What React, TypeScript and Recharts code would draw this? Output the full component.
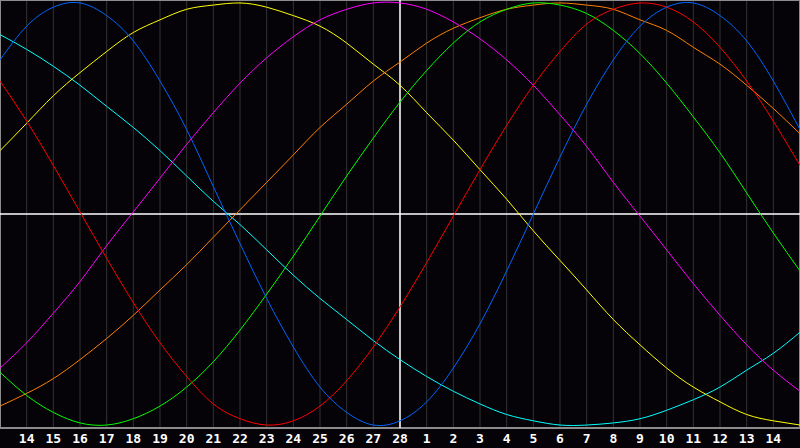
import { LineChart, Line, XAxis, YAxis, CartesianGrid, ReferenceLine, ReferenceArea } from "recharts";

// day labels under the grid lines (positions 1..29)
const dayLabels = [
  "14", "15", "16", "17", "18", "19", "20", "21", "22", "23", "24", "25", "26", "27", "28",
  "1", "2", "3", "4", "5", "6", "7", "8", "9", "10", "11", "12", "13", "14",
];

// values in % at positions 0..30 (one per day column)
const physical = [73, 89, 98, 100, 94, 82, 63, 40, 13, -14, -40, -63, -82, -94, -100, -98, -89, -73, -52, -27, 0, 27, 52, 73, 89, 98, 100, 94, 82, 63, 40];
const emotional = [63, 44, 23, 1, -21, -42, -61, -77, -90, -97, -100, -98, -91, -79, -63, -44, -23, -1, 21, 42, 61, 77, 90, 97, 100, 98, 91, 79, 63, 44, 23];
const intellectual = [-75, -86, -94, -99, -100, -97, -91, -82, -70, -55, -38, -20, -1, 18, 36, 53, 68, 81, 91, 97, 100, 99, 95, 87, 76, 62, 46, 29, 10, -9, -27];
const intuitive = [-73, -61, -47, -32, -15, 1, 17, 33, 48, 62, 74, 84, 92, 97, 100, 100, 97, 91, 83, 73, 61, 47, 32, 15, -1, -17, -33, -48, -62, -74, -84];
const aesthetic = [30, 43, 56, 67, 77, 86, 92, 97, 99, 100, 98, 94, 89, 81, 71, 61, 48, 35, 21, 7, -8, -22, -36, -50, -62, -73, -82, -89, -95, -98, -100];
const awareness = [-91, -85, -78, -69, -59, -48, -36, -24, -11, 2, 15, 28, 41, 52, 63, 72, 81, 88, 93, 97, 99, 100, 99, 97, 92, 87, 79, 71, 61, 50, 38];
const spiritual = [85, 78, 70, 61, 51, 41, 30, 18, 6, -5, -17, -29, -40, -50, -60, -69, -77, -84, -90, -95, -98, -100, -100, -99, -97, -93, -88, -82, -74, -66, -56];

const rows = physical.map((_, i) => ({
  i,
  physical: physical[i],
  emotional: emotional[i],
  intellectual: intellectual[i],
  intuitive: intuitive[i],
  aesthetic: aesthetic[i],
  awareness: awareness[i],
  spiritual: spiritual[i],
}));

const tickPositions = dayLabels.map((_, k) => k + 1);

const series = [
  { key: "spiritual", color: "#00ffff" },
  { key: "aesthetic", color: "#ffff00" },
  { key: "awareness", color: "#ff8000" },
  { key: "intuitive", color: "#ff00ff" },
  { key: "intellectual", color: "#00ff00" },
  { key: "emotional", color: "#ff0000" },
  { key: "physical", color: "#0066ff" },
];

export default function App() {
  return (
    <div style={{ position: "fixed", top: 0, left: 0, width: 800, height: 448, background: "#050308" }}>
      <LineChart width={800} height={448} data={rows} margin={{ top: 0, right: 0, bottom: 0, left: 0 }}>
        <CartesianGrid vertical horizontal={false} stroke="#333333" />
        <XAxis
          dataKey="i"
          type="number"
          domain={[0, 30]}
          ticks={tickPositions}
          tickFormatter={(v) => dayLabels[v - 1]}
          height={20}
          axisLine={false}
          tickLine={false}
          tickMargin={0}
          interval={0}
          tick={{ fill: "#ffffff", fontSize: 13, fontWeight: "bold", fontFamily: "DejaVu Sans Mono" }}
        />
        <YAxis hide domain={[-101.4, 101.4]} />
        <ReferenceArea x1={0} x2={30} y1={-101.4} y2={101.4} fill="none" stroke="#8c8c8c" strokeWidth={2} />
        <ReferenceLine x={15} stroke="#ffffff" strokeWidth={1.5} />
        <ReferenceLine y={0} stroke="#ffffff" strokeWidth={1.5} />
        {series.map((s) => (
          <Line
            key={s.key}
            dataKey={s.key}
            type="natural"
            stroke={s.color}
            strokeWidth={1}
            dot={false}
            activeDot={false}
            isAnimationActive={false}
          />
        ))}
      </LineChart>
    </div>
  );
}
